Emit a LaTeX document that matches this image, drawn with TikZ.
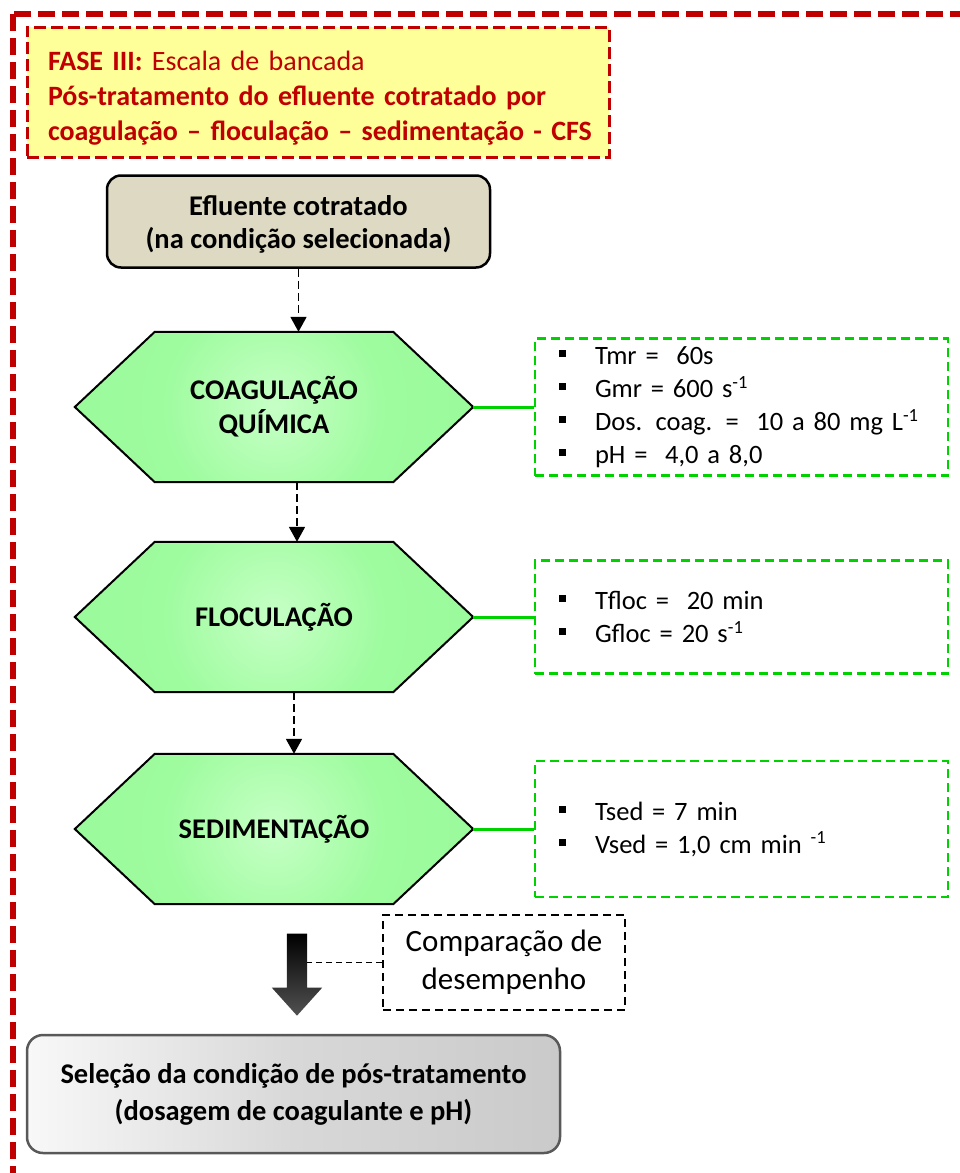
\documentclass[tikz,border=0pt]{standalone}
\usepackage{fontspec}
\setmainfont{Carlito}
\usetikzlibrary{arrows.meta,shapes.arrows,backgrounds,calc}

\definecolor{framered}{HTML}{C00000}
\definecolor{notefill}{HTML}{FFFF99}
\definecolor{tanfill}{HTML}{DDD9C3}
\definecolor{paramgreen}{RGB}{0,210,0}
\definecolor{hexA}{HTML}{C6FFC6}
\definecolor{hexB}{HTML}{9EFC9E}
\definecolor{hexC}{HTML}{96F796}
\definecolor{hexD}{HTML}{3CC63C}
\definecolor{selA}{HTML}{F8F8F8}
\definecolor{selB}{HTML}{D8D8D8}
\definecolor{selC}{HTML}{CACACA}

% light centre fading to a deeper green at the pointed ends
\pgfdeclareradialshading{hexglow}{\pgfpoint{0bp}{0bp}}{%
  color(0bp)=(hexA); color(14bp)=(hexB); color(40bp)=(hexC);
  color(50bp)=(hexD); color(100bp)=(hexD)}

% hexagon outline built from the anchors of a rectangular node
\newcommand\hexpath[1]{(#1.west) -- ($(#1.north west)+(80,0)$) -- ($(#1.north east)+(-80,0)$)
  -- (#1.east) -- ($(#1.south east)+(-80,0)$) -- ($(#1.south west)+(80,0)$) -- cycle}
% one bulleted parameter line
\newcommand\pline[1]{\mbox{\makebox[36pt][l]{\rule[7.5pt]{7pt}{7pt}}#1}}

\tikzset{
  notebox/.style={draw=framered, fill=notefill, line width=3pt, dash pattern=on 12pt off 5pt,
    minimum width=582pt, minimum height=130pt, text width=540pt, inner xsep=21pt, inner ysep=0pt,
    align=left, text=framered, font=\fontsize{28}{35}\selectfont},
  effbox/.style={draw=black, fill=tanfill, line width=2.5pt, rounded corners=14pt,
    minimum width=383pt, minimum height=92pt, align=center, inner sep=0pt,
    font=\fontsize{28.5}{33}\selectfont\bfseries},
  hexnode/.style={minimum width=398pt, minimum height=150pt, inner sep=0pt, align=center,
    font=\fontsize{28.5}{34}\selectfont\bfseries},
  hexline/.style={draw=black, line width=2pt, line join=miter},
  parbox/.style={draw=paramgreen, line width=2.5pt, dash pattern=on 9pt off 5pt,
    minimum width=413pt, text width=365pt, inner xsep=24pt, inner ysep=0pt, align=left,
    font=\fontsize{26.5}{33}\selectfont},
  flowarrow/.style={draw=black, line width=1.8pt, dash pattern=on 8pt off 4pt,
    -{Triangle[width=16pt,length=15pt]}},
  paramlink/.style={draw=paramgreen, line width=3pt},
  cmpbox/.style={draw=black, line width=2pt, dash pattern=on 8pt off 5pt,
    minimum width=242pt, minimum height=95pt, align=center, inner sep=0pt,
    font=\fontsize{31}{38}\selectfont},
  joinline/.style={draw=black, line width=1.5pt, dash pattern=on 6pt off 4pt},
  bigarrow/.style={single arrow, rotate=-90, minimum height=82pt, minimum width=50pt,
    single arrow head extend=15pt, single arrow tip angle=84, inner xsep=0pt, inner ysep=10pt,
    top color=black, bottom color=black!68, draw=none},
  selbox/.style={draw=black!65, line width=2.5pt, rounded corners=16pt,
    minimum width=533pt, minimum height=118pt, align=center, inner sep=0pt,
    left color=selA, right color=selC, middle color=selB,
    font=\fontsize{28.5}{37}\selectfont\bfseries},
}

\begin{document}
\begin{tikzpicture}[x=1pt, y=-1pt]
\useasboundingbox (0,0) rectangle (960,1173);
\clip (0,0) rectangle (960,1173);

% outer dashed frame, running past the right and lower edges
\draw[draw=framered, line width=5.5pt, dash pattern=on 17pt off 7pt] (13,14) rectangle (1000,1220);

% title block
\node[notebox] (hdr) at (318,92) {%
  \mbox{\rule{0pt}{32pt}\textbf{FASE III:} Escala de bancada}\\
  \mbox{\textbf{Pós-tratamento do efluente cotratado por}}\\
  \mbox{\textbf{coagulação – floculação – sedimentação - CFS}}};

% input
\node[effbox] (eff) at (298.5,221.5) {\rule{0pt}{26pt}Efluente cotratado\\(na condição selecionada)};

% process stages
\node[hexnode] (hex1) at (274,407) {COAGULAÇÃO\\QUÍMICA};
\node[hexnode] (hex2) at (274,617) {FLOCULAÇÃO};
\node[hexnode] (hex3) at (274,829) {SEDIMENTAÇÃO};

\begin{pgfonlayer}{background}
  \foreach \h in {hex1,hex2,hex3}{
    \begin{scope}
      \clip \hexpath{\h};
      \shade[shading=hexglow] (\h.center) circle (200pt);
    \end{scope}
    \draw[hexline] \hexpath{\h};
  }
\end{pgfonlayer}

% operating parameters
\node[parbox, minimum height=137pt] (p1) at (741.5,407) {%
  \pline{Tmr = ~60s}\\
  \pline{Gmr = 600 s\textsuperscript{-1}}\\
  \pline{Dos. coag. = ~10 a 80 mg L\textsuperscript{-1}}\\
  \pline{pH = ~4,0 a 8,0}};
\node[parbox, minimum height=113pt] (p2) at (741.5,617) {%
  \pline{Tfloc = ~20 min}\\
  \pline{Gfloc = 20 s\textsuperscript{-1}}};
\node[parbox, minimum height=136pt] (p3) at (741.5,829) {%
  \pline{Tsed = 7 min}\\
  \pline{Vsed = 1,0 cm min \textsuperscript{-1}}};

\draw[paramlink] (hex1.east) -- (p1.west);
\draw[paramlink] (hex2.east) -- (p2.west);
\draw[paramlink] (hex3.east) -- (p3.west);

% flow between stages
\draw[flowarrow] (eff.south) -- (eff.south |- hex1.north);
\draw[flowarrow] ([xshift=23pt]hex1.south) -- ([xshift=23pt]hex2.north);
\draw[flowarrow] ([xshift=20pt]hex2.south) -- ([xshift=20pt]hex3.north);

% comparison and selection
\node[bigarrow] (down) at (297,969) {};
\node[cmpbox] (cmp) at (504,962.5) {Comparação de\\desempenho};
\draw[joinline] (cmp.west) -- ([xshift=10pt]cmp.west -| down.center);

\node[selbox] (sel) at (293.5,1094) {Seleção da condição de pós-tratamento\\(dosagem de coagulante e pH)};
\end{tikzpicture}
\end{document}
